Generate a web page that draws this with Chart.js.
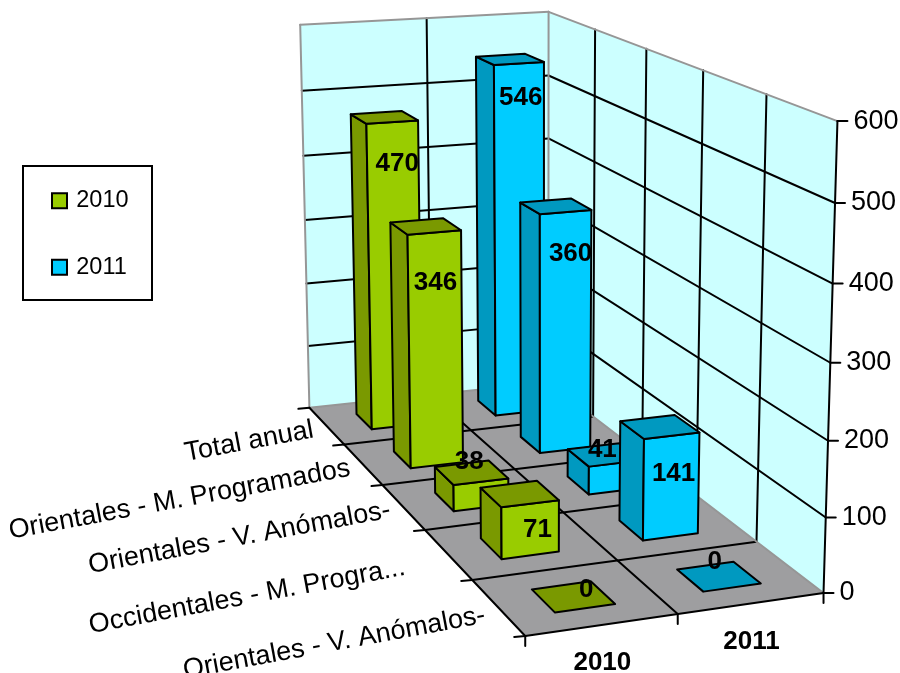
<!DOCTYPE html>
<html>
<head>
    <meta charset="utf-8">
    <title>Grafico 3D 2010 - 2011</title>
    <script src="https://cdn.jsdelivr.net/npm/chart.js"></script>
    <style>
        html, body { margin: 0; padding: 0; background: #fff; }
        canvas { display: block; }
    </style>
</head>
<body>
    <canvas id="chart3d" width="900" height="673"></canvas>

    <script>
        // Data
        const categories = ['Total anual', 'Orientales - M. Programados', 'Orientales - V. Anómalos-', 'Occidentales - M. Progra...', 'Orientales - V. Anómalos-'];
        const seriesNames = ['2010', '2011'];
        const values2010 = [470, 346, 38, 71, 0];
        const values2011 = [546, 360, 41, 141, 0];

        const FONT = "'Liberation Sans', Arial, sans-serif";
        const BLACK = '#000000';
        const colors = [
            { front: '#99CC00', dark: '#7A9900' },
            { front: '#00CCFF', dark: '#0099C0' }
        ];

        // Where the room of the 3D chart sits on screen: [series, depth, height, screenX, screenY]
        const roomPoints = [
            [0, 0, 0, 309, 407], [1, 0, 0, 548, 383], [0, 1, 0, 525, 635], [1, 1, 0, 823, 593],
            [0, 0, 1, 300, 25], [1, 0, 1, 548, 11], [1, 1, 1, 837, 120], [0.5, 1, 0, 677, 613],
            [1, 1, 1 / 6, 827, 517], [1, 1, 2 / 6, 828, 441], [1, 1, 4 / 6, 833, 283], [1, 1, 5 / 6, 835, 203],
            [1, 0.2, 1, 596, 30], [1, 0.4, 1, 646, 49], [1, 0.6, 1, 704, 71], [1, 0.8, 1, 766, 95],
            [0, 0.2, 0, 345, 444], [0, 0.4, 0, 383, 485], [0, 0.6, 0, 425, 529], [0, 0.8, 0, 472, 584]
        ];

        // Small pixel shifts of the text labels
        const labelShift2010 = [[13, 47], [10, 56], [-2, -11], [18, 36], [13, -7]];
        const labelShift2011 = [[11, 38], [15, 48], [-2, -5], [14, 47], [-4, -15]];
        const categoryLabelShift = [[-13, 4], [-13, 4], [-13, 3], [-43, 13], [-13, 8]];

        // Least squares fit of a projective camera (11 unknowns, last term fixed to 1)
        function fitCamera(points) {
            const n = 11;
            const A = Array.from({ length: n }, () => new Array(n + 1).fill(0));
            const addRow = (row, rhs) => {
                for (let i = 0; i < n; i++) {
                    for (let j = 0; j < n; j++) A[i][j] += row[i] * row[j];
                    A[i][n] += row[i] * rhs;
                }
            };
            points.forEach(([u, v, w, x, y]) => {
                const sx = x / 1000, sy = y / 1000;
                addRow([u, v, w, 1, 0, 0, 0, 0, -sx * u, -sx * v, -sx * w], sx);
                addRow([0, 0, 0, 0, u, v, w, 1, -sy * u, -sy * v, -sy * w], sy);
            });
            for (let c = 0; c < n; c++) {
                let best = c;
                for (let r = c + 1; r < n; r++) if (Math.abs(A[r][c]) > Math.abs(A[best][c])) best = r;
                [A[c], A[best]] = [A[best], A[c]];
                for (let r = 0; r < n; r++) {
                    if (r === c) continue;
                    const f = A[r][c] / A[c][c];
                    for (let k = c; k <= n; k++) A[r][k] -= f * A[c][k];
                }
            }
            return A.map((row, i) => row[n] / row[i]);
        }

        const cam = fitCamera(roomPoints);
        function project(u, v, w) {
            const d = cam[8] * u + cam[9] * v + cam[10] * w + 1;
            return {
                x: 1000 * (cam[0] * u + cam[1] * v + cam[2] * w + cam[3]) / d,
                y: 1000 * (cam[4] * u + cam[5] * v + cam[6] * w + cam[7]) / d
            };
        }

        function poly(ctx, pts, fill, stroke, lineWidth) {
            ctx.beginPath();
            pts.forEach((p, i) => i ? ctx.lineTo(p.x, p.y) : ctx.moveTo(p.x, p.y));
            ctx.closePath();
            if (fill) { ctx.fillStyle = fill; ctx.fill(); }
            if (stroke) { ctx.strokeStyle = stroke; ctx.lineWidth = lineWidth; ctx.lineJoin = 'round'; ctx.stroke(); }
        }

        function line(ctx, a, b, color, lineWidth) {
            ctx.beginPath();
            ctx.moveTo(a.x, a.y);
            ctx.lineTo(b.x, b.y);
            ctx.strokeStyle = color;
            ctx.lineWidth = lineWidth;
            ctx.stroke();
        }

        function text(ctx, str, x, y, font, align) {
            ctx.font = font;
            ctx.fillStyle = BLACK;
            ctx.textAlign = align;
            ctx.textBaseline = 'middle';
            ctx.fillText(str, x, y);
        }

        // Chart.js lays out the bars flat, this plugin stands them up in the 3D room
        const room3d = {
            id: 'room3d',
            beforeDatasetsDraw(chart) {
                const ctx = chart.ctx;
                const xs = chart.scales.x, ys = chart.scales.y, ss = chart.scales.series;
                const toV = px => (px - xs.left) / xs.width;
                const toW = px => (ys.bottom - px) / ys.height;
                const toU = px => (px - ss.left) / ss.width;
                const yTicks = ys.ticks.map(t => ({ w: toW(ys.getPixelForValue(t.value)), label: t.label }));
                const vEdges = categories.map((c, i) => toV(xs.getPixelForValue(i - 0.5))).concat(1);
                const uEdges = seriesNames.map((c, i) => toU(ss.getPixelForValue(i - 0.5))).concat(1);

                ctx.save();
                ctx.lineCap = 'round';

                // walls and floor
                poly(ctx, [project(0, 0, 0), project(1, 0, 0), project(1, 0, 1), project(0, 0, 1)], '#CCFFFF');
                poly(ctx, [project(1, 0, 0), project(1, 1, 0), project(1, 1, 1), project(1, 0, 1)], '#CCFFFF');
                poly(ctx, [project(0, 0, 0), project(1, 0, 0), project(1, 1, 0), project(0, 1, 0)], '#9E9EA0');

                // grid
                yTicks.slice(1, -1).forEach(t => {
                    line(ctx, project(0, 0, t.w), project(1, 0, t.w), BLACK, 2);
                    line(ctx, project(1, 0, t.w), project(1, 1, t.w), BLACK, 2);
                });
                uEdges.slice(1, -1).forEach(u => {
                    line(ctx, project(u, 0, 0), project(u, 0, 1), BLACK, 2);
                    line(ctx, project(u, 0, 0), project(u, 1, 0), BLACK, 2);
                });
                vEdges.slice(1, -1).forEach(v => {
                    line(ctx, project(0, v, 0), project(1, v, 0), BLACK, 2);
                    line(ctx, project(1, v, 0), project(1, v, 1), BLACK, 2);
                });

                // wall outlines in grey
                [[0, 0, 0, 0, 0, 1], [0, 0, 1, 1, 0, 1], [1, 0, 1, 1, 1, 1], [1, 0, 0, 1, 0, 1], [0, 0, 0, 1, 0, 0], [1, 0, 0, 1, 1, 0]].forEach(e => {
                    line(ctx, project(e[0], e[1], e[2]), project(e[3], e[4], e[5]), '#969696', 2);
                });

                // axes, ticks and tick labels
                line(ctx, project(0, 0, 0), project(0, 1, 0), BLACK, 2);
                line(ctx, project(0, 1, 0), project(1, 1, 0), BLACK, 2);
                line(ctx, project(1, 1, 0), project(1, 1, 1), BLACK, 2);

                yTicks.forEach(t => {
                    const p = project(1, 1, t.w);
                    line(ctx, p, { x: p.x + 10, y: p.y }, BLACK, 2);
                    text(ctx, t.label, p.x + 16, p.y, '27px ' + FONT, 'left');
                });
                vEdges.forEach(v => {
                    const p = project(0, v, 0);
                    line(ctx, p, { x: p.x - 11, y: p.y + 1 }, BLACK, 2);
                });
                uEdges.forEach(u => {
                    const p = project(u, 1, 0);
                    line(ctx, p, { x: p.x, y: p.y + 10 }, BLACK, 2);
                });

                categories.forEach((name, i) => {
                    const p = project(0, toV(xs.getPixelForValue(i)), 0);
                    ctx.save();
                    ctx.translate(p.x + categoryLabelShift[i][0], p.y + categoryLabelShift[i][1]);
                    ctx.rotate(-10.5 * Math.PI / 180);
                    text(ctx, name, 0, 0, '27px ' + FONT, 'right');
                    ctx.restore();
                });
                seriesNames.forEach((name, i) => {
                    const p = project(toU(ss.getPixelForValue(i)), 1, 0);
                    text(ctx, name, p.x, p.y + 38, 'bold 26px ' + FONT, 'center');
                });

                // bars, back to front and right to left
                const halfU = (toU(ss.getPixelForValue(0.5)) - toU(ss.getPixelForValue(-0.5))) * 0.2;
                const shifts = [labelShift2010, labelShift2011];
                const labels = [];
                categories.forEach((name, i) => {
                    for (let di = chart.data.datasets.length - 1; di >= 0; di--) {
                        const bar = chart.getDatasetMeta(di).data[i];
                        const u = toU(ss.getPixelForValue(di));
                        const u0 = u - halfU, u1 = u + halfU;
                        const v0 = toV(bar.x - bar.width / 2), v1 = toV(bar.x + bar.width / 2);
                        const w0 = toW(bar.base), w1 = toW(bar.y);
                        const c = colors[di];
                        const top = [project(u0, v0, w1), project(u1, v0, w1), project(u1, v1, w1), project(u0, v1, w1)];
                        if (w1 > w0) {
                            poly(ctx, [project(u0, v0, w0), project(u0, v1, w0), project(u0, v1, w1), project(u0, v0, w1)], c.dark, BLACK, 2);
                            poly(ctx, [project(u0, v1, w0), project(u1, v1, w0), project(u1, v1, w1), project(u0, v1, w1)], c.front, BLACK, 2);
                        }
                        poly(ctx, top, c.dark, BLACK, 2);
                        const mid = project(u, (v0 + v1) / 2, w1);
                        labels.push({ str: String(chart.data.datasets[di].data[i]), x: mid.x + shifts[di][i][0], y: mid.y + shifts[di][i][1] });
                    }
                });
                labels.forEach(l => text(ctx, l.str, l.x, l.y, 'bold 26px ' + FONT, 'center'));

                ctx.restore();
                return false;
            },
            afterDraw(chart) {
                // frame round the legend
                const ctx = chart.ctx;
                ctx.save();
                ctx.strokeStyle = BLACK;
                ctx.lineWidth = 2;
                ctx.strokeRect(23, 166, 129, 134);
                ctx.restore();
            }
        };

        const chart = new Chart(document.getElementById('chart3d').getContext('2d'), {
            type: 'bar',
            data: {
                labels: categories,
                datasets: [
                    { label: seriesNames[0], data: values2010, backgroundColor: colors[0].front, borderColor: BLACK, borderWidth: 2 },
                    { label: seriesNames[1], data: values2011, backgroundColor: colors[1].front, borderColor: BLACK, borderWidth: 2 }
                ]
            },
            options: {
                responsive: false,
                animation: false,
                grouped: false,
                barPercentage: 0.42,
                categoryPercentage: 1,
                layout: { padding: { left: 11.5, top: 0, bottom: 205 } },
                scales: {
                    x: { display: false, offset: true },
                    series: { type: 'category', axis: 'x', labels: seriesNames, display: false, offset: true },
                    y: { display: false, min: 0, max: 600, ticks: { stepSize: 100 } }
                },
                plugins: {
                    tooltip: { enabled: false },
                    legend: {
                        position: 'left',
                        labels: {
                            color: BLACK,
                            usePointStyle: true,
                            pointStyle: 'rect',
                            boxWidth: 10,
                            boxHeight: 15,
                            padding: 43,
                            font: { family: FONT, size: 23.5 }
                        }
                    }
                }
            },
            plugins: [room3d]
        });
    </script>
</body>
</html>
